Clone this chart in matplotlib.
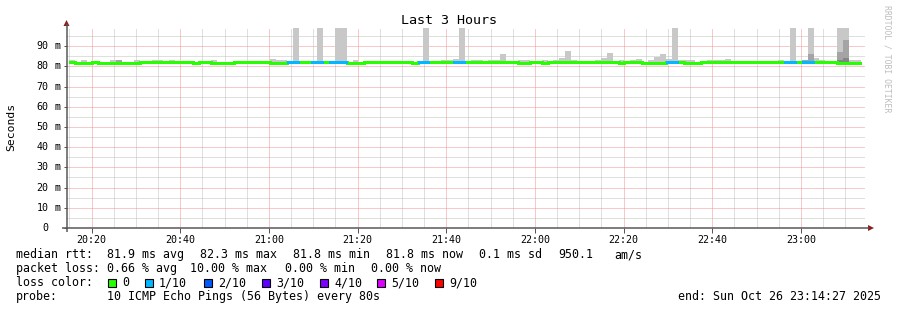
import numpy as np
import matplotlib
matplotlib.use("Agg")
import matplotlib.pyplot as plt
from matplotlib.lines import Line2D
from matplotlib.patches import Polygon, Rectangle

# ---------------- data ----------------
title = "Last 3 Hours"
y_label = "Seconds"
step_seconds = 80
first_step = "20:14:51"
end_time = "23:14:27"
span_hours = 3

median_ms = [
    82.2, 81.8, 81.8, 81.8, 82.2, 81.8, 81.8, 81.8, 81.8, 81.8,
    81.8, 81.8, 82.2, 82.2, 82.2, 82.2, 82.2, 82.2, 82.2, 82.2,
    82.2, 81.8, 82.2, 82.2, 81.8, 81.8, 81.8, 81.8, 82.2, 82.2,
    82.2, 82.2, 82.2, 82.2, 81.8, 81.9, 81.8, 82.0, 82.1, 82.0,
    82.1, 82.0, 82.1, 82.0, 82.0, 82.1, 82.0, 81.8, 81.8, 81.8,
    82.2, 82.1, 82.2, 82.2, 82.1, 82.2, 82.2, 82.1, 81.8, 82.0,
    82.1, 82.2, 82.2, 82.1, 82.2, 82.0, 82.1, 82.2, 82.1, 82.2,
    82.2, 82.1, 82.2, 82.2, 82.1, 82.2, 81.8, 81.8, 82.1, 82.2,
    81.8, 82.2, 82.1, 82.2, 82.2, 82.1, 82.2, 82.1, 82.2, 82.2,
    82.1, 82.2, 82.2, 81.8, 82.1, 82.2, 82.2, 81.8, 81.8, 81.9,
    81.8, 82.0, 82.1, 82.2, 81.8, 81.8, 81.8, 82.2, 82.1, 82.2,
    82.2, 82.1, 82.2, 82.2, 82.1, 82.2, 82.2, 82.1, 82.2, 82.2,
    82.1, 82.0, 82.1, 82.2, 82.0, 82.1, 82.2, 82.2, 82.1, 82.2,
    81.9, 81.9, 81.8, 81.8,
]

# lost pings (out of 10) per step
loss_count = [
    0, 0, 0, 0, 0, 0, 0, 0, 0, 0,
    0, 0, 0, 0, 0, 0, 0, 0, 0, 0,
    0, 0, 0, 0, 0, 0, 0, 0, 0, 0,
    0, 0, 0, 0, 0, 0, 0, 0, 1, 0,
    0, 0, 1, 0, 0, 1, 1, 0, 0, 0,
    0, 0, 0, 0, 0, 0, 0, 0, 0, 0,
    1, 0, 0, 0, 0, 0, 1, 0, 0, 0,
    0, 0, 0, 0, 0, 0, 0, 0, 0, 0,
    0, 0, 0, 0, 0, 0, 0, 0, 0, 0,
    0, 0, 0, 0, 0, 0, 0, 0, 0, 0,
    0, 0, 1, 0, 0, 0, 0, 0, 0, 0,
    0, 0, 0, 0, 0, 0, 0, 0, 0, 0,
    0, 0, 1, 0, 0, 1, 0, 0, 0, 0,
    0, 0, 0, 0,
]

smoke_floor_ms = 81.5  # fastest ping in each step (approx.)

# slowest ping per step (light smoke)
smoke_light_ms = [
    83.2, 82.4, 83.0, 82.4, 82.4, 82.4, 82.4, 83.0, 83.0, 82.4,
    82.4, 83.0, 82.4, 82.4, 83.2, 83.0, 82.4, 83.0, 82.4, 82.4,
    82.4, 82.4, 82.4, 82.4, 83.0, 82.4, 82.4, 82.4, 82.4, 82.4,
    82.4, 82.4, 82.4, 82.4, 83.7, 83.0, 83.2, 82.4, 120.0, 82.4,
    82.4, 82.4, 120.0, 82.4, 82.4, 120.0, 120.0, 82.4, 83.0, 82.4,
    82.4, 82.4, 82.4, 82.4, 82.4, 82.4, 82.4, 82.4, 82.4, 82.4,
    120.0, 82.4, 82.4, 83.2, 83.2, 83.7, 120.0, 82.4, 83.0, 83.0,
    82.4, 83.2, 83.2, 86.1, 82.4, 82.4, 83.0, 83.0, 82.4, 82.4,
    83.0, 82.4, 83.2, 84.2, 87.6, 83.0, 82.4, 82.4, 82.4, 83.2,
    84.2, 86.4, 82.4, 83.2, 82.4, 83.2, 83.7, 82.4, 83.0, 84.8,
    86.1, 83.7, 120.0, 83.2, 83.2, 83.0, 82.4, 82.4, 83.0, 83.0,
    83.0, 83.7, 82.4, 82.4, 82.4, 82.4, 82.4, 82.4, 82.4, 82.4,
    83.2, 82.4, 120.0, 82.4, 83.2, 120.0, 84.2, 83.2, 82.4, 82.4,
    120.0, 120.0, 83.0, 83.0,
]

# denser smoke layers (only a few steps have them)
smoke_mid_steps = [8, 124, 125, 130, 131]
smoke_mid_ms = [83.0, 83.2, 86.1, 87.1, 93.1]
smoke_dark_steps = [130, 131]
smoke_dark_ms = [83.4, 84.2]

yticks_ms = [0, 10, 20, 30, 40, 50, 60, 70, 80, 90]
xtick_labels = ["20:20", "20:40", "21:00", "21:20", "21:40",
                "22:00", "22:20", "22:40", "23:00"]

loss_labels = ["0", "1/10", "2/10", "3/10", "4/10", "5/10", "9/10"]
loss_colors = ["#26ff00", "#00b8ff", "#0059ff", "#5e00ff",
               "#7e00ff", "#dd00ff", "#ff0000"]

stat_median = ["81.9 ms avg", "82.3 ms max", "81.8 ms min", "81.8 ms now",
               "0.1 ms sd", "950.1", "am/s"]
stat_loss = ["0.66 % avg", "10.00 % max", "0.00 % min", "0.00 % now"]
probe_text = "10 ICMP Echo Pings (56 Bytes) every 80s"
end_text = "end: Sun Oct 26 23:14:27 2025"
watermark = "RRDTOOL / TOBI OETIKER"

# ---------------- helpers ----------------
W, H = 897, 310
MONO = "DejaVu Sans Mono"
PX = 0.72  # one pixel in points


def to_min(hms):
    h, m, s = (int(p) for p in hms.split(":"))
    return h * 60 + m + s / 60.0 - 20 * 60


def px(x, y):
    return (x / W, 1 - y / H)


fig = plt.figure(figsize=(W / 100, H / 100), dpi=100)
fig.patch.set_facecolor("white")

ax_l, ax_r, ax_b, ax_t = 67, 865, 228, 28
ax = fig.add_axes([ax_l / W, 1 - ax_b / H, (ax_r - ax_l) / W, (ax_b - ax_t) / H])
ax.set_facecolor("white")
for s in ax.spines.values():
    s.set_visible(False)

t_end = to_min(end_time)
t_start = t_end - span_hours * 60
ax.set_xlim(t_start, t_end)
ax.set_ylim(0, 99)

n = len(median_ms)
step_min = step_seconds / 60.0
edges = to_min(first_step) + np.arange(n + 1) * step_min
med = np.array(median_ms)

# grid (1px dotted, RRDtool style)
major_x = 20 + 20 * np.arange(len(xtick_labels))
minor_x = np.arange(np.ceil(t_start / 5) * 5, t_end, 5)
minor_y = np.arange(5, 99, 5)
gkw = dict(lw=PX, ls=(0, (1, 1)), antialiased=True, snap=True)
for x in minor_x:
    if x not in major_x:
        ax.axvline(x, color="#c0c0c0", zorder=0, **gkw)
for y in minor_y:
    if y not in yticks_ms:
        ax.axhline(y, color="#c0c0c0", zorder=0, **gkw)
for x in major_x:
    ax.axvline(x, color="#f09494", zorder=0.5, **gkw)
for y in yticks_ms[1:]:
    ax.axhline(y, color="#f09494", zorder=0.5, **gkw)

# smoke
light = np.array(smoke_light_ms)
ax.bar(edges[:-1], light - smoke_floor_ms, bottom=smoke_floor_ms, width=step_min,
       align="edge", color="#c8c8c8", linewidth=0, antialiased=False, zorder=2)
ms_idx = np.array(smoke_mid_steps)
ax.bar(edges[ms_idx], np.array(smoke_mid_ms) - smoke_floor_ms, bottom=smoke_floor_ms,
       width=step_min, align="edge", color="#a4a4a4", linewidth=0,
       antialiased=False, zorder=3)
md_idx = np.array(smoke_dark_steps)
ax.bar(edges[md_idx], np.array(smoke_dark_ms) - smoke_floor_ms, bottom=smoke_floor_ms,
       width=step_min, align="edge", color="#858585", linewidth=0,
       antialiased=False, zorder=4)

# median line coloured by loss
LW = 3 * PX
ax.stairs(med, edges, baseline=None, color=loss_colors[0], lw=LW, zorder=5,
          antialiased=False)
loss = np.array(loss_count)
k = 0
while k < n:
    if loss[k] > 0:
        j = k
        while j + 1 < n and loss[j + 1] > 0:
            j += 1
        a = max(k - 1, 0)
        ax.stairs(med[a:j + 1], edges[a:j + 2], baseline=None,
                  color=loss_colors[int(loss[k])], lw=LW, zorder=6,
                  antialiased=False)
        k = j + 1
    else:
        k += 1

# ticks / labels
axis_c = "#555555"
arrow_c = "#8b2020"
ax.set_xticks(major_x)
ax.set_xticklabels(xtick_labels, fontsize=7.2, family=MONO)
ax.tick_params(axis="x", length=3.5, width=PX, color=axis_c, pad=1.5, direction="out")
ax.set_yticks(yticks_ms)
ax.set_yticklabels([])
ax.tick_params(axis="y", length=2.5, width=PX, color=axis_c, direction="out")
ytr = matplotlib.transforms.blended_transform_factory(fig.transFigure, ax.transData)
for v in yticks_ms:
    ax.text(48.5 / W, v, str(v), transform=ytr, ha="right", va="center",
            fontsize=7.2, family=MONO, clip_on=False)
    if v != 0:
        ax.text(54 / W, v, "m", transform=ytr, ha="left", va="center",
                fontsize=7.2, family=MONO, clip_on=False)

# axis lines with arrows
fig.add_artist(Line2D([px(66.5, 232)[0], px(66.5, 24)[0]],
                      [px(66.5, 232)[1], px(66.5, 24)[1]], color=axis_c,
                      lw=1.5 * PX, solid_capstyle="butt"))
fig.add_artist(Line2D([px(62, 228)[0], px(869, 228)[0]],
                      [px(62, 228)[1], px(869, 228)[1]], color=axis_c,
                      lw=1.5 * PX, solid_capstyle="butt"))
fig.add_artist(Polygon([px(63.5, 26), px(69.5, 26), px(66.5, 20)], closed=True,
                       transform=fig.transFigure, color=arrow_c, lw=0))
fig.add_artist(Polygon([px(868, 225), px(868, 231), px(874, 228)], closed=True,
                       transform=fig.transFigure, color=arrow_c, lw=0))

# title, y label, watermark
fig.text(*px(448.5, 24), title, ha="center", va="baseline", fontsize=9.6, family=MONO)
fig.text(*px(11, 127), y_label, ha="center", va="center", rotation=90,
         fontsize=8.2, family=MONO)
fig.text(*px(887, 5), watermark, ha="center", va="top", rotation=270,
         fontsize=5.9, family=MONO, color="#bdbdbd")

# legend
FS = 8.4
rows_y = [258, 272, 286, 300]
fig.text(*px(16, rows_y[0]), "median rtt:", fontsize=FS, family=MONO, va="baseline")
for s, x in zip(stat_median, [107, 200, 293, 386, 479, 558, 614]):
    fig.text(*px(x, rows_y[0]), s, fontsize=FS, family=MONO, va="baseline")
fig.text(*px(16, rows_y[1]), "packet loss:", fontsize=FS, family=MONO, va="baseline")
for s, x in zip(stat_loss, [107, 190, 285, 371]):
    fig.text(*px(x, rows_y[1]), s, fontsize=FS, family=MONO, va="baseline")
fig.text(*px(16, rows_y[2]), "loss color:", fontsize=FS, family=MONO, va="baseline")
for lab, col, x in zip(loss_labels, loss_colors, [108, 145, 204, 262, 320, 377, 435]):
    x0, y0 = px(x, rows_y[2] + 1)
    fig.add_artist(Rectangle((x0, y0), 8 / W, 8 / H, transform=fig.transFigure,
                             facecolor=col, edgecolor="black", lw=0.8))
    fig.text(*px(x + 14, rows_y[2]), lab, fontsize=FS, family=MONO, va="baseline")
fig.text(*px(16, rows_y[3]), "probe:", fontsize=FS, family=MONO, va="baseline")
fig.text(*px(107, rows_y[3]), probe_text, fontsize=FS, family=MONO, va="baseline")
fig.text(*px(881, rows_y[3]), end_text, fontsize=FS, family=MONO, va="baseline", ha="right")

fig.savefig("out.png", dpi=100, facecolor="white")
